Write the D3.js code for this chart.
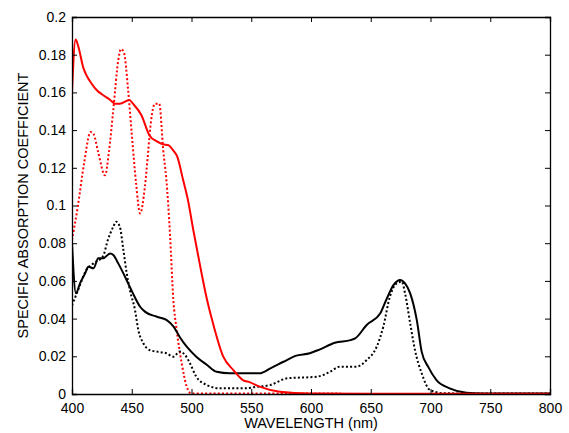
<!DOCTYPE html>
<html>
<head>
<meta charset="utf-8">
<script src="https://cdn.jsdelivr.net/npm/d3@7"></script>
<style>
  body { margin: 0; background: #fff; }
  text { font-family: "Liberation Sans", Arial, sans-serif; }
</style>
</head>
<body>
<div id="chart"></div>
<script>
// wavelengths (nm) and absorption values
var redSolidX = [400, 403, 405, 409.5, 413, 416, 421, 425, 432, 436, 440, 448, 451, 458, 465, 471, 476, 480.5, 485, 488, 493, 497, 501.5, 505.7, 513, 518, 526.6, 535, 543, 549, 557, 574, 599, 650, 700, 750, 800]
var redSolidY = [0.160, 0.188, 0.185, 0.173, 0.168, 0.165, 0.161, 0.159, 0.156, 0.154, 0.154, 0.156, 0.154, 0.148, 0.137, 0.134, 0.1325, 0.132, 0.129, 0.126, 0.1135, 0.103, 0.087, 0.073, 0.050, 0.0375, 0.0198, 0.0127, 0.0074, 0.0062, 0.0039, 0.0012, 0.0002, 0.0001, 0.0001, 0.0001, 0.0001]

var redDotX = [400, 405, 410, 415.6, 418, 422, 427.6, 431, 434.6, 438.7, 441, 443.5, 447, 450, 453.6, 457, 461, 463.8, 465, 469.5, 473, 476.4, 479, 482, 484.8, 487.6, 491.8, 496, 500, 550, 600, 625]
var redDotY = [0.0817, 0.100, 0.122, 0.139, 0.138, 0.128, 0.116, 0.129, 0.151, 0.177, 0.183, 0.181, 0.161, 0.138, 0.112, 0.0958, 0.110, 0.129, 0.138, 0.154, 0.154, 0.129, 0.1135, 0.085, 0.050, 0.034, 0.0163, 0.0039, 0.0002, 0.0002, 0.0002, 0.0002]

var blackSolidX = [400, 403.3, 406.7, 411, 413.6, 418, 422, 426, 432, 434.6, 438.7, 443, 447, 451, 457, 461, 471, 479, 485, 490, 496, 504, 513, 521, 532, 546, 557, 566, 577, 587, 599, 607.5, 620, 633, 637, 646.6, 658, 663, 669, 674.5, 678.7, 683, 688.5, 692.6, 698, 705, 716, 730, 744, 770, 800]
var blackSolidY = [0.080, 0.0534, 0.0587, 0.064, 0.0675, 0.0667, 0.072, 0.072, 0.0746, 0.0737, 0.0693, 0.064, 0.0587, 0.0534, 0.0463, 0.0437, 0.041, 0.0393, 0.0357, 0.0304, 0.0251, 0.0198, 0.0154, 0.0118, 0.011, 0.011, 0.011, 0.0136, 0.0171, 0.0202, 0.0216, 0.0237, 0.0272, 0.0286, 0.0295, 0.0366, 0.0428, 0.050, 0.0578, 0.0605, 0.0587, 0.0534, 0.0393, 0.0225, 0.0145, 0.0074, 0.003, 0.0007, 0.0003, 0.0002, 0.0002]

var blackDotX = [400, 405, 412, 418, 426, 430, 434.6, 437, 440, 443, 445.8, 448.5, 452.7, 455.5, 459.7, 465, 471, 479, 485, 490, 494.6, 498.7, 504, 512.7, 524, 546, 551.7, 566, 580, 605, 616, 624, 638, 646.6, 655, 660.5, 666, 671.7, 676, 678.7, 683, 687, 692.6, 699.6, 711, 750, 800]
var blackDotY = [0.047, 0.055, 0.0658, 0.0693, 0.0732, 0.0817, 0.0888, 0.0914, 0.0888, 0.0764, 0.064, 0.055, 0.0446, 0.034, 0.0269, 0.0233, 0.0225, 0.0216, 0.0198, 0.0225, 0.0207, 0.0163, 0.0092, 0.0048, 0.003, 0.003, 0.0036, 0.0048, 0.0083, 0.0092, 0.0118, 0.0145, 0.0145, 0.018, 0.0251, 0.0357, 0.0516, 0.0587, 0.0596, 0.0534, 0.0375, 0.0233, 0.011, 0.0021, 0.0004, 0.0002, 0.0002]

var xTicks = [400, 450, 500, 550, 600, 650, 700, 750, 800]
var yTicks = [0, 0.02, 0.04, 0.06, 0.08, 0.1, 0.12, 0.14, 0.16, 0.18, 0.2]

var width = 569, height = 433
var margin = {top: 17, right: 19, bottom: 39, left: 72}

var svg = d3.select("#chart").append("svg")
  .attr("width", width)
  .attr("height", height)

var x = d3.scaleLinear().domain([400, 800]).range([margin.left, width - margin.right])
var y = d3.scaleLinear().domain([0, 0.2]).range([height - margin.bottom, margin.top])

var fmt = d => String(+d.toFixed(2))

// clip lines to plot box
svg.append("clipPath").attr("id", "clip")
  .append("rect")
  .attr("x", x(400)).attr("y", y(0.2))
  .attr("width", x(800) - x(400)).attr("height", y(0) - y(0.2))

var line = d3.line().curve(d3.curveMonotoneX).x(d => x(d[0])).y(d => y(d[1]))

var series = [
  {xs: redDotX, ys: redDotY, color: "#ff0000", dash: "2,2.2"},
  {xs: blackDotX, ys: blackDotY, color: "#000", dash: "2,2.2"},
  {xs: blackSolidX, ys: blackSolidY, color: "#000", dash: null},
  {xs: redSolidX, ys: redSolidY, color: "#ff0000", dash: null}
]

var g = svg.append("g").attr("clip-path", "url(#clip)")
series.forEach(function (s) {
  g.append("path")
    .datum(s.xs.map((v, i) => [v, s.ys[i]]))
    .attr("fill", "none")
    .attr("stroke", s.color)
    .attr("stroke-width", 2)
    .attr("stroke-dasharray", s.dash)
    .attr("stroke-linejoin", "round")
    .attr("d", line)
})

// axes, ticks pointing inward on all four sides
var tk = 5
svg.append("g")
  .attr("transform", `translate(0,${y(0)})`)
  .call(d3.axisBottom(x).tickValues(xTicks).tickSize(-tk).tickPadding(9))
svg.append("g")
  .attr("transform", `translate(0,${y(0.2)})`)
  .call(d3.axisTop(x).tickValues(xTicks).tickSize(-tk).tickFormat(""))
svg.append("g")
  .attr("transform", `translate(${x(400)},0)`)
  .call(d3.axisLeft(y).tickValues(yTicks).tickSize(-tk).tickPadding(6).tickFormat(fmt))
svg.append("g")
  .attr("transform", `translate(${x(800)},0)`)
  .call(d3.axisRight(y).tickValues(yTicks).tickSize(-tk).tickFormat(""))

svg.selectAll(".domain").attr("stroke", "#000").attr("stroke-width", 1.3)
svg.selectAll(".tick line").attr("stroke", "#000")
svg.selectAll(".tick text")
  .attr("fill", "#000")
  .style("font-size", "14px")
  .style("font-family", "'Liberation Sans', Arial, sans-serif")

svg.append("text")
  .attr("x", (x(400) + x(800)) / 2)
  .attr("y", 428)
  .attr("text-anchor", "middle")
  .style("font-size", "14.5px")
  .text("WAVELENGTH (nm)")

svg.append("text")
  .attr("transform", `translate(28,${(y(0) + y(0.2)) / 2}) rotate(-90)`)
  .attr("text-anchor", "middle")
  .style("font-size", "14.5px")
  .text("SPECIFIC ABSORPTION COEFFICIENT")
</script>
</body>
</html>
